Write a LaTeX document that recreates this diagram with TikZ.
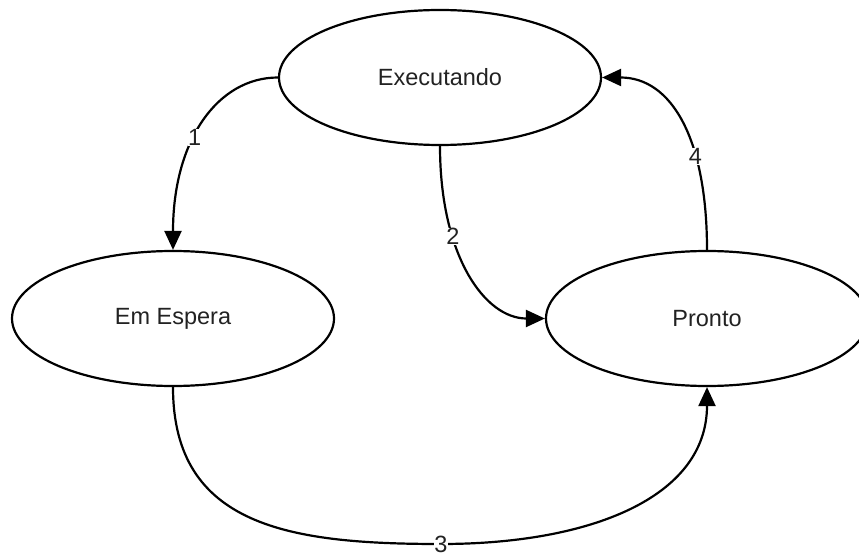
\documentclass[tikz,border=0pt]{standalone}
\usepackage{fontspec}
\setmainfont{Liberation Sans}
\usetikzlibrary{shapes.geometric,arrows.meta}
\definecolor{txt}{HTML}{222222}
\begin{document}
\begin{tikzpicture}[x=1pt,y=-1pt,
  state/.style={draw,ellipse,line width=2.2pt,minimum width=322pt,minimum height=135pt,inner sep=0pt,text=txt,font=\fontsize{23.5}{28}\selectfont},
  conn/.style={line width=2.2pt,-{Triangle[length=19pt,width=17pt]}},
  lbl/.style={fill=white,inner sep=0.5pt,text=txt,font=\fontsize{23.5}{28}\selectfont}]
\useasboundingbox (0,0) rectangle (859,556);
\node[state] (ex) at (440,77.5) {Executando};
\node[state] (esp) at (173,318.5) {Em Espera};
\node[state] (pr) at (707,318.5) {Pronto};
\coordinate (b3) at (441,544);
\draw[conn] (ex.west) .. controls +(-60,0) and +(0,-110) .. node[lbl,pos=0.58] {1} (esp.north);
\draw[conn] (ex.south) .. controls +(0,110) and +(-60,0) .. node[lbl,pos=0.32] {2} (pr.west);
\draw[conn] (esp.south) .. controls +(0,140) and +(-150,0) .. (b3) .. controls +(150,0) and +(0,110) .. (pr.south);
\node[lbl] (l3) at (b3) {3};
\draw[conn] (pr.north) .. controls +(0,-112) and +(69,0) .. node[lbl,pos=0.33] {4} (ex.east);
\end{tikzpicture}
\end{document}
